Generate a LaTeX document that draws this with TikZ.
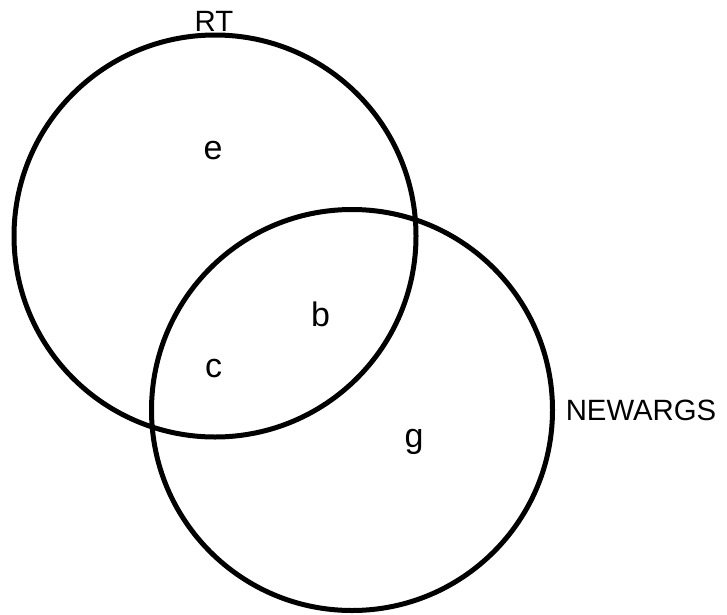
\documentclass[tikz,border=0pt]{standalone}
\usepackage{fontspec}
\setmainfont{Liberation Sans}
\usepackage{tikz}
\usetikzlibrary{positioning}

\begin{document}
\begin{tikzpicture}[x=0.75pt,y=-0.75pt,
  setline/.style={line width=3.75pt,black},
  setlabel/.style={font=\fontsize{22}{26}\selectfont,inner sep=0pt},
  zonelabel/.style={font=\fontsize{25.5}{30}\selectfont,inner sep=0pt,anchor=base}]
\useasboundingbox (0,0) rectangle (727,614);
\coordinate (RTc) at (215,236);
\coordinate (NAc) at (352,410);

\draw[setline] (RTc) circle (201);
\draw[setline] (NAc) circle (200.5);

\node[setlabel] (rt) at (214,21) {RT};
\node[setlabel] (na) at (641,410) {NEWARGS};
\node[zonelabel] (e) at (213,159) {e};
\node[zonelabel] (b) at (320.5,326) {b};
\node[zonelabel] (c) at (213.7,377) {c};
\node[zonelabel] (g) at (414,447) {g};
\end{tikzpicture}
\end{document}
